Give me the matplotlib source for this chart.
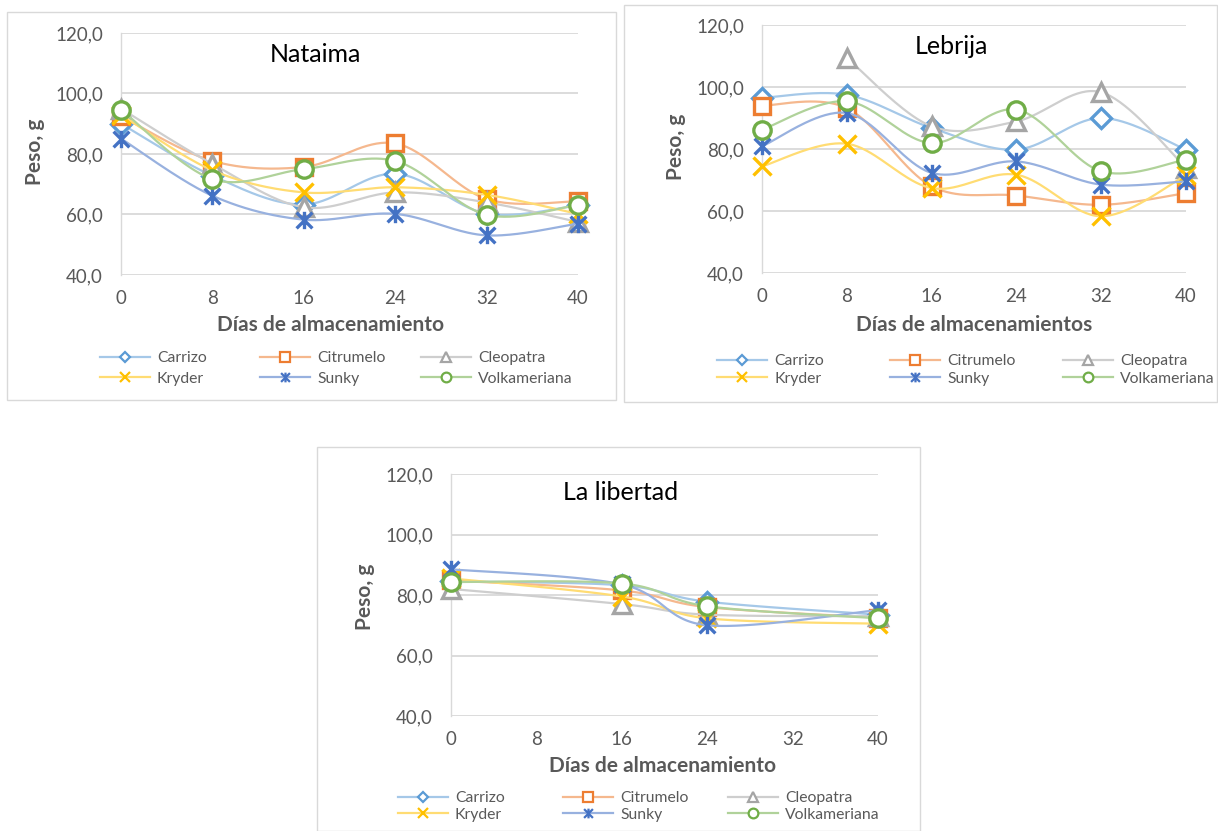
import numpy as np
import matplotlib
matplotlib.use("Agg")
import matplotlib.pyplot as plt
from matplotlib.path import Path
from matplotlib.lines import Line2D
from matplotlib.patches import Rectangle
from matplotlib.colors import to_rgb

plt.rcParams['font.family'] = ['Lato', 'DejaVu Sans']

# ---------------- data ----------------
varieties = ['Carrizo', 'Citrumelo', 'Cleopatra', 'Kryder', 'Sunky', 'Volkameriana']
x_ticks = [0, 8, 16, 24, 32, 40]
y_ticks = [40, 60, 80, 100, 120]

days_nataima = [0, 8, 16, 24, 32, 40]
nataima_carrizo = [90.0, 72.8, 63.3, 73.5, 60.3, 63.0]
nataima_citrumelo = [92.5, 77.7, 75.7, 83.5, 65.1, 64.4]
nataima_cleopatra = [95.0, 76.7, 62.4, 67.3, 64.0, 57.5]
nataima_kryder = [93.0, 74.6, 67.3, 69.0, 66.5, 60.2]
nataima_sunky = [85.1, 66.2, 58.3, 60.2, 53.1, 57.0]
nataima_volkameriana = [94.7, 71.7, 75.0, 77.7, 59.9, 63.2]

days_lebrija = [0, 8, 16, 24, 32, 40]
lebrija_carrizo = [96.5, 97.5, 86.8, 79.8, 90.0, 79.8]
lebrija_citrumelo = [94.0, 93.2, 68.0, 65.0, 62.0, 65.8]
lebrija_cleopatra = [np.nan, 109.4, 87.3, 88.9, 98.3, 74.0]
lebrija_kryder = [74.4, 81.7, 67.4, 71.7, 58.3, 71.5]
lebrija_sunky = [80.9, 91.6, 72.3, 76.0, 68.5, 69.6]
lebrija_volkameriana = [86.2, 95.4, 81.9, 92.7, 72.8, 76.6]

days_libertad = [0, 16, 24, 40]
libertad_carrizo = [84.5, 83.2, 77.8, 73.5]
libertad_citrumelo = [84.8, 81.5, 76.0, 72.5]
libertad_cleopatra = [82.0, 77.0, 73.5, 73.0]
libertad_kryder = [85.5, 79.5, 72.3, 70.5]
libertad_sunky = [88.5, 83.5, 70.0, 75.0]
libertad_volkameriana = [84.3, 83.8, 76.3, 72.3]

# ---------------- style ----------------
W, H = 1218, 831
colors = ['#5B9BD5', '#ED7D31', '#A5A5A5', '#FFC000', '#4472C4', '#70AD47']
star = Path([(-0.5, -0.5), (0.5, 0.5), (-0.5, 0.5), (0.5, -0.5), (0, -0.55), (0, 0.55)],
            [Path.MOVETO, Path.LINETO, Path.MOVETO, Path.LINETO, Path.MOVETO, Path.LINETO])
markers = ['D', 's', '^', 'x', star, 'o']
msizes = [10, 11.5, 12.5, 12.5, 12.5, 12.5]
lsizes = [5.5, 7, 7, 7, 7, 7]
filled = [True, True, True, False, False, True]
TXT = '#595959'
GRID = '#D9D9D9'


def lighten(c, f=0.45):
    r = np.array(to_rgb(c))
    return tuple(r + (1 - r) * f)


def smooth(xs, ys, n=40):
    pts = np.column_stack([np.asarray(xs, float), np.asarray(ys, float)])
    pts = pts[~np.isnan(pts[:, 1])]
    P = np.vstack([pts[0], pts, pts[-1]])
    out = []
    t = np.linspace(0, 1, n)[:, None]
    for i in range(1, len(P) - 2):
        p0, p1, p2, p3 = P[i - 1], P[i], P[i + 1], P[i + 2]
        c1 = p1 + (p2 - p0) / 6.0
        c2 = p2 - (p3 - p1) / 6.0
        seg = (1 - t) ** 3 * p1 + 3 * (1 - t) ** 2 * t * c1 + 3 * (1 - t) * t ** 2 * c2 + t ** 3 * p2
        out.append(seg if i == 1 else seg[1:])
    c = np.vstack(out)
    return c[:, 0], c[:, 1]


def fx(x):
    return x / W


def fy(y):
    return 1 - y / H


fig = plt.figure(figsize=(W / 100, H / 100), dpi=100)

panels = [
    dict(box=(7, 12, 616, 400), ax=(121, 33, 578, 275), days=days_nataima,
         series=[nataima_carrizo, nataima_citrumelo, nataima_cleopatra, nataima_kryder,
                 nataima_sunky, nataima_volkameriana],
         title='Nataima', tpos=(315, 55), xlabel='Días de almacenamiento', xlpos=(331, 325),
         ylpos=(35, 152), leg_x=[100, 260, 421], leg_rows=(357, 380)),
    dict(box=(624, 5, 1217, 402), ax=(762, 25, 1186, 273), days=days_lebrija,
         series=[lebrija_carrizo, lebrija_citrumelo, lebrija_cleopatra, lebrija_kryder,
                 lebrija_sunky, lebrija_volkameriana],
         title='Lebrija', tpos=(951, 47), xlabel='Días de almacenamientos', xlpos=(974, 325),
         ylpos=(676, 147), leg_x=[717, 890, 1063], leg_rows=(360, 380)),
    dict(box=(317, 447, 920, 831), ax=(451, 474, 878, 716), days=days_libertad,
         series=[libertad_carrizo, libertad_citrumelo, libertad_cleopatra, libertad_kryder,
                 libertad_sunky, libertad_volkameriana],
         title='La libertad', tpos=(621, 492), xlabel='Días de almacenamiento', xlpos=(663, 766),
         ylpos=(365, 597), leg_x=[398, 563, 728], leg_rows=(797, 816)),
]

for p in panels:
    x0, y0, x1, y1 = p['box']
    fig.add_artist(Rectangle((fx(x0), fy(y1)), (x1 - x0) / W, (y1 - y0) / H,
                             transform=fig.transFigure, fill=False, edgecolor=GRID, lw=1.0))
    a0, b0, a1, b1 = p['ax']
    ax = fig.add_axes([fx(a0), fy(b1), (a1 - a0) / W, (b1 - b0) / H])
    ax.set_xlim(0, 40)
    ax.set_ylim(40, 120)
    ax.set_xticks(x_ticks)
    ax.set_xticklabels([str(v) for v in x_ticks])
    ax.set_yticks(y_ticks)
    ax.set_yticklabels([f"{v:.1f}".replace('.', ',') for v in y_ticks])
    ax.tick_params(length=0, colors=TXT, labelsize=13.5)
    ax.tick_params(axis='x', pad=11)
    ax.tick_params(axis='y', pad=13)
    for s in ['top', 'right', 'bottom']:
        ax.spines[s].set_visible(False)
    ax.spines['left'].set_color(GRID)
    ax.spines['left'].set_linewidth(1.0)
    ax.yaxis.grid(True, color=GRID, lw=1.3)
    ax.set_axisbelow(True)

    for i, ys in enumerate(p['series']):
        sx, sy = smooth(p['days'], ys)
        ax.plot(sx, sy, color=lighten(colors[i]), lw=1.6, zorder=3 + 2 * i, clip_on=False)
        ax.plot(p['days'], ys, linestyle='none', marker=markers[i], ms=msizes[i],
                mec=colors[i], mfc='white' if filled[i] else 'none', mew=2.4,
                zorder=4 + 2 * i, clip_on=False)

    fig.text(fx(p['tpos'][0]), fy(p['tpos'][1]), p['title'], ha='center', va='center',
             fontsize=18, color='black')
    fig.text(fx(p['xlpos'][0]), fy(p['xlpos'][1]), p['xlabel'], ha='center', va='center',
             fontsize=15, fontweight='bold', color=TXT)
    fig.text(fx(p['ylpos'][0]), fy(p['ylpos'][1]), 'Peso, g', ha='center', va='center',
             rotation=90, fontsize=15, fontweight='bold', color=TXT)

    # legend: three columns, two rows (Excel order row-wise)
    r1, r2 = p['leg_rows']
    fs = 11.3
    fs_px = fs * 100 / 72
    spacing = max((r2 - r1) / fs_px - 1.05, 0.0)
    for col in range(3):
        idx = [col, col + 3]
        handles = [Line2D([], [], color=lighten(colors[k]), lw=1.6, marker=markers[k],
                          ms=lsizes[k], mec=colors[k], mfc='white' if filled[k] else 'none',
                          mew=1.6) for k in idx]
        fig.legend(handles, [varieties[k] for k in idx], loc='center left',
                   bbox_to_anchor=(fx(p['leg_x'][col]), fy((r1 + r2) / 2)),
                   frameon=False, fontsize=fs, handlelength=50 / fs_px,
                   handletextpad=7 / fs_px, borderpad=0, borderaxespad=0,
                   labelspacing=spacing, labelcolor=TXT, numpoints=1)

fig.savefig('out.png', dpi=100)
